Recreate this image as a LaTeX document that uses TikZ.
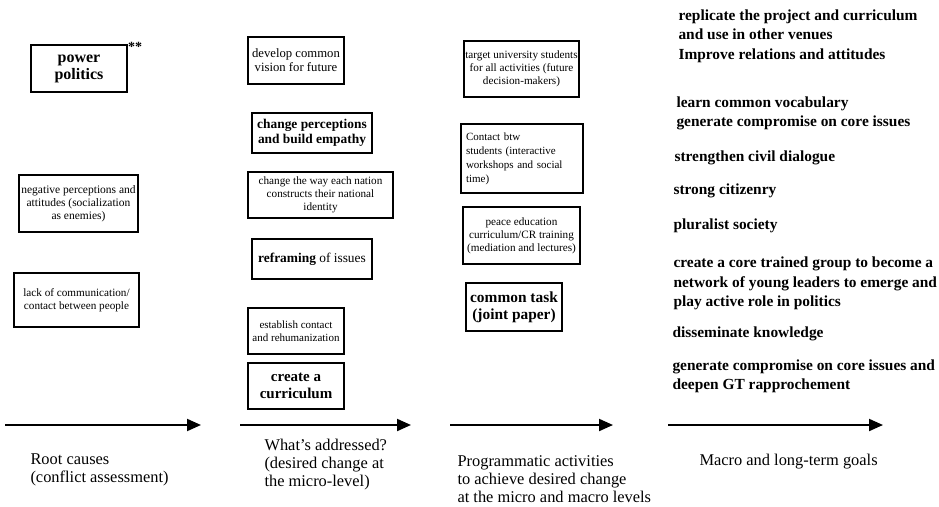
\documentclass[tikz,border=0pt]{standalone}
\usepackage{fontspec}
\setmainfont{Liberation Serif}
\usetikzlibrary{arrows.meta}

\begin{document}
\begin{tikzpicture}[x=1pt,y=-1pt,
    box/.style={draw, line width=1.6pt, align=center, inner sep=1pt, font=\fontsize{11.2}{13}\selectfont},
    bigbox/.style={box, font=\fontsize{15.5}{17}\selectfont\bfseries},
    goal/.style={anchor=west, align=left, font=\fontsize{15.4}{19.5}\selectfont\bfseries},
    stage/.style={anchor=west, align=left, font=\fontsize{16.4}{18}\selectfont},
    flow/.style={line width=2pt, -{Triangle[length=14pt,width=12pt]}}]
  \useasboundingbox (0,0) rectangle (939,506);

  % Root causes
  \node[bigbox, font=\fontsize{16}{17}\selectfont\bfseries, minimum width=96pt, minimum height=47pt] (power) at (79,68.5) {power\\politics};
  \node[font=\fontsize{14}{14}\selectfont\bfseries, anchor=west, inner sep=0pt] (stars) at (128,47) {**};
  \node[box, font=\fontsize{11.5}{13}\selectfont, minimum width=119pt, minimum height=57pt] (negative) at (78.5,203.5) {negative perceptions and\\attitudes (socialization\\as enemies)};
  \node[box, minimum width=125pt, minimum height=54pt] (lack) at (76.5,300) {lack of communication/\\contact between people};

  % What's addressed
  \node[box, font=\fontsize{12.7}{14}\selectfont, minimum width=96pt, minimum height=47pt] (vision) at (296,60.5) {develop common\\vision for future};
  \node[bigbox, font=\fontsize{13.4}{15}\selectfont\bfseries, minimum width=120pt, minimum height=40pt] (empathy) at (312,133) {change perceptions\\and build empathy};
  \node[box, minimum width=145pt, minimum height=46pt] (identity) at (320.5,195) {change the way each nation\\constructs their national\\identity};
  \node[box, font=\fontsize{13.4}{15}\selectfont, minimum width=120pt, minimum height=40pt] (reframing) at (312,259) {\textbf{reframing} of issues};
  \node[box, font=\fontsize{11}{13}\selectfont, minimum width=96pt, minimum height=46pt] (contact) at (296,331) {establish contact\\and rehumanization};
  \node[bigbox, font=\fontsize{15}{17}\selectfont\bfseries, minimum width=96pt, minimum height=46pt] (curriculum) at (296,386) {create a\\curriculum};

  % Programmatic activities
  \node[box, minimum width=115pt, minimum height=56pt] (students) at (521.5,69) {target university students\\for all activities (future\\decision-makers)};
  \node[box, font=\fontsize{11}{14}\selectfont, align=left, text width=112pt, inner xsep=5pt, minimum height=69pt] (workshops) at (522,158.5) {Contact btw\\students (interactive\\workshops and social\\time)};
  \node[box, minimum width=117pt, minimum height=57pt] (peace) at (521.5,235.5) {peace education\\curriculum/CR training\\(mediation and lectures)};
  \node[bigbox, font=\fontsize{15.4}{17}\selectfont\bfseries, minimum width=96pt, minimum height=48pt] (task) at (514,307) {common task\\(joint paper)};

  % Macro and long-term goals
  \node[goal] (replicate) at (675,25) {replicate the project and curriculum\\and use in other venues};
  \node[goal] (improve) at (675,56) {Improve relations and attitudes};
  \node[goal] (vocabulary) at (673,113.5) {learn common vocabulary\\generate compromise on core issues};
  \node[goal] (dialogue) at (671,158) {strengthen civil dialogue};
  \node[goal] (citizenry) at (670,191) {strong citizenry};
  \node[goal] (pluralist) at (670,226) {pluralist society};
  \node[goal] (leaders) at (670,283.5) {create a core trained group to become a\\network of young leaders to emerge and\\play active role in politics};
  \node[goal] (knowledge) at (669,334) {disseminate knowledge};
  \node[goal] (rapprochement) at (669,376.5) {generate compromise on core issues and\\deepen GT rapprochement};

  % Arrows
  \coordinate (a1) at (5,425);   \coordinate (b1) at (201,425);
  \coordinate (a2) at (240,425); \coordinate (b2) at (411,425);
  \coordinate (a3) at (450,425); \coordinate (b3) at (613,425);
  \coordinate (a4) at (668,425); \coordinate (b4) at (883,425);
  \draw[flow] (a1) -- (b1);
  \draw[flow] (a2) -- (b2);
  \draw[flow] (a3) -- (b3);
  \draw[flow] (a4) -- (b4);

  % Stage labels
  \node[stage] (root) at (27,469.5) {Root causes\\(conflict assessment)};
  \node[stage] (addressed) at (261,464.5) {What's addressed?\\(desired change at\\the micro-level)};
  \node[stage] (programmatic) at (454,479.5) {Programmatic activities\\to achieve desired change\\at the micro and macro levels};
  \node[stage] (macro) at (696,462) {Macro and long-term goals};
\end{tikzpicture}
\end{document}
